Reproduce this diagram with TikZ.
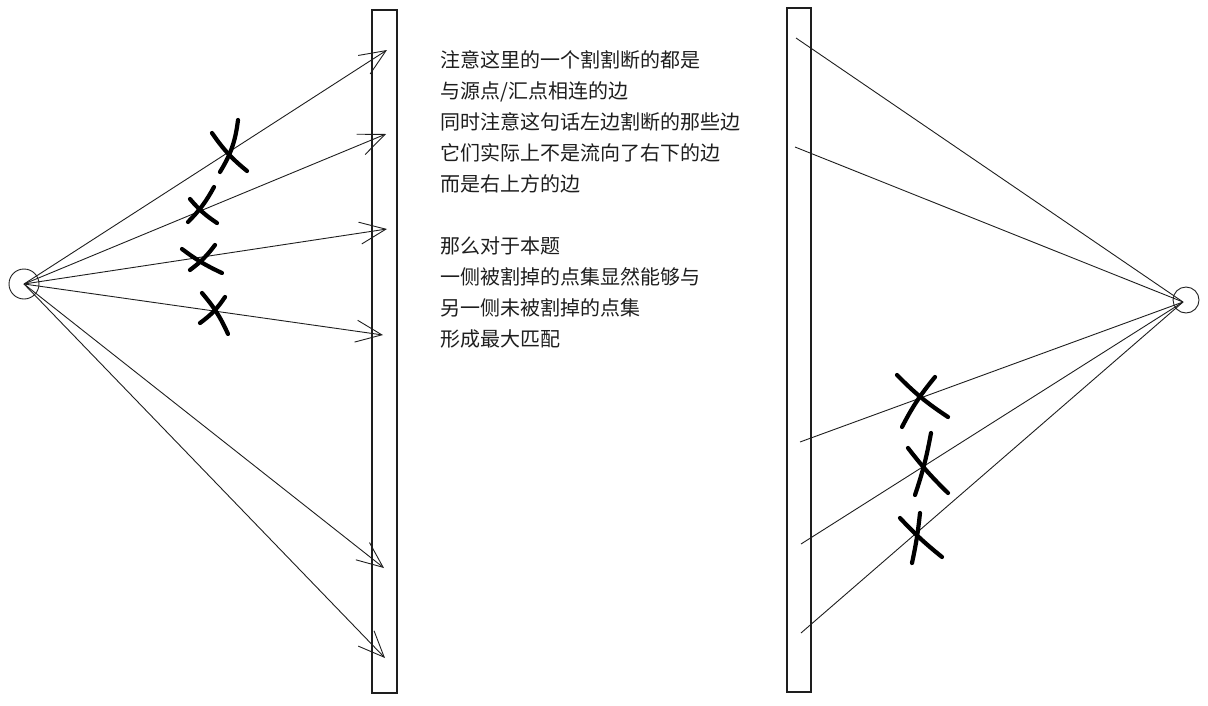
\documentclass[tikz,border=0pt]{standalone}
\usepackage{fontspec}
\newfontfamily\cjk{Noto Sans CJK SC}
\usetikzlibrary{arrows.meta}
\definecolor{ink}{HTML}{1E1E1E}
\tikzset{
  edge/.style={draw=ink, line width=0.9pt},
  arr/.style={edge, -{Straight Barb[length=26pt,width=22pt,line width=0.9pt]}},
  cross/.style={draw=black, line width=4.2pt, line cap=round},
  bar/.style={draw=ink, line width=1.1pt},
  txt/.style={anchor=base west, inner sep=0pt, font=\cjk\fontsize{20pt}{24pt}\selectfont, text=ink},
  pt/.style={circle, draw=ink, line width=0.9pt, inner sep=0pt}
}
\begin{document}
\begin{tikzpicture}[x=1pt,y=-1pt]
\useasboundingbox (0,0) rectangle (1208,705);
% bars
\draw[bar] (372,10) rectangle (397,693);
\draw[bar] (787,8) rectangle (811,692);
% source / sink
\node[pt, minimum size=30pt] (s) at (24,284) {};
\node[pt, minimum size=26pt] (t) at (1186,300) {};
% left arrow tips
\coordinate (a1) at (387,50);
\coordinate (a2) at (386,134);
\coordinate (a3) at (387,229);
\coordinate (a4) at (383,335);
\coordinate (a5) at (384,568);
\coordinate (a6) at (385,658);
\foreach \i in {1,...,6} \draw[arr] (s.center) -- (a\i);
% right starts
\coordinate (b1) at (796,38);
\coordinate (b2) at (795,147);
\coordinate (b3) at (800,442);
\coordinate (b4) at (801,544);
\coordinate (b5) at (801,633);
\coordinate (tc) at (1183,302);
\foreach \i in {1,...,5} \draw[edge] (b\i) -- (tc);
% crosses left
\draw[cross] (238,120) to[bend left=12] (220,172);
\draw[cross] (212,133) to[bend right=8] (247,171);
\draw[cross] (214,187) to[bend left=8] (188,222);
\draw[cross] (190,199) to[bend right=8] (217,223);
\draw[cross] (215,245) to[bend left=8] (190,270);
\draw[cross] (182,249) to[bend right=6] (222,273);
\draw[cross] (202,293) to[bend left=8] (228,334);
\draw[cross] (225,297) to[bend left=10] (200,323);
% crosses right
\draw[cross] (897,375) to[bend right=6] (948,417);
\draw[cross] (935,377) to[bend right=6] (902,427);
\draw[cross] (931,433) to[bend left=4] (915,495);
\draw[cross] (908,448) to[bend right=4] (948,493);
\draw[cross] (920,513) to[bend left=3] (912,563);
\draw[cross] (900,518) to[bend right=4] (942,557);
% text
\node[txt] (l1) at (440,67.5) {注意这里的一个割割断的都是};
\node[txt] (l2) at (440,98.5) {与源点/汇点相连的边};
\node[txt] (l3) at (440,129.5) {同时注意这句话左边割断的那些边};
\node[txt] (l4) at (440,160.5) {它们实际上不是流向了右下的边};
\node[txt] (l5) at (440,191.5) {而是右上方的边};
\node[txt] (l6) at (440,253.5) {那么对于本题};
\node[txt] (l7) at (440,284.5) {一侧被割掉的点集显然能够与};
\node[txt] (l8) at (440,315.5) {另一侧未被割掉的点集};
\node[txt] (l9) at (440,346.5) {形成最大匹配};
\end{tikzpicture}
\end{document}
